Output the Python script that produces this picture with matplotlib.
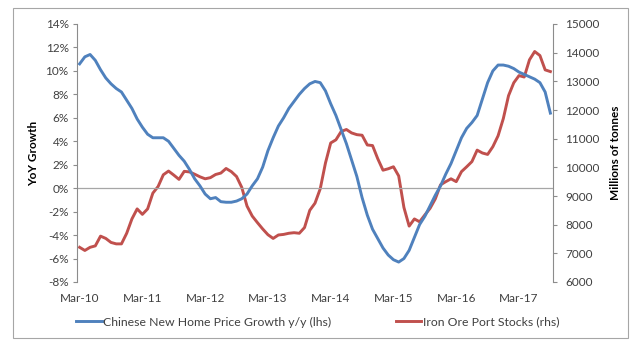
import numpy as np
import matplotlib.pyplot as plt
from matplotlib.patches import Rectangle
from matplotlib.ticker import FuncFormatter

plt.rcParams['font.family'] = ['Lato', 'DejaVu Sans']

# monthly, Mar-10 .. Sep-17
home_price_growth = [
    10.6, 11.2, 11.4, 10.9, 10.1, 9.4, 8.9, 8.5, 8.2, 7.5, 6.8, 5.9,
    5.2, 4.6, 4.3, 4.3, 4.3, 4.0, 3.4, 2.8, 2.3, 1.6, 0.8, 0.2,
    -0.5, -0.9, -0.8, -1.15, -1.2, -1.2, -1.1, -0.9, -0.5, 0.2, 0.8, 1.8,
    3.2, 4.3, 5.3, 6.0, 6.8, 7.4, 8.0, 8.5, 8.9, 9.1, 9.0, 8.3,
    7.2, 6.2, 5.0, 3.8, 2.4, 1.0, -0.8, -2.3, -3.5, -4.3, -5.1, -5.7,
    -6.1, -6.3, -6.0, -5.3, -4.2, -3.1, -2.4, -1.5, -0.6, 0.2, 1.2, 2.1,
    3.2, 4.3, 5.1, 5.6, 6.2, 7.6, 9.0, 10.0, 10.5, 10.5, 10.4, 10.2,
    9.9, 9.7, 9.5, 9.3, 9.0, 8.2, 6.4,
]

iron_ore_stocks = [
    7210, 7100, 7210, 7260, 7600, 7520, 7380, 7330, 7330, 7700, 8200, 8550,
    8360, 8550, 9100, 9330, 9740, 9870, 9730, 9580, 9860, 9840, 9760, 9670,
    9600, 9640, 9750, 9800, 9960, 9850, 9680, 9300, 8650, 8300, 8070, 7850,
    7650, 7520, 7640, 7660, 7700, 7720, 7700, 7900, 8500, 8750, 9250, 10150,
    10850, 10960, 11250, 11320, 11200, 11140, 11120, 10780, 10760, 10300, 9900, 9950,
    10020, 9700, 8600, 7950, 8200, 8100, 8340, 8570, 8900, 9390, 9500, 9600,
    9500, 9850, 10020, 10200, 10600, 10500, 10450, 10720, 11100, 11700, 12500, 12950,
    13200, 13150, 13750, 14040, 13900, 13400, 13340,
]

year_labels = ["Mar-10", "Mar-11", "Mar-12", "Mar-13",
               "Mar-14", "Mar-15", "Mar-16", "Mar-17"]

blue = "#4F81BD"
red = "#C0504D"
grey = "#8C8C8C"
text_col = "#404040"
fs = 8.5

x = np.arange(len(home_price_growth))

fig = plt.figure(figsize=(6.4, 3.43), dpi=100)
ax = fig.add_axes([77 / 640, 1 - 282 / 343, (553 - 77) / 640, (282 - 24) / 343])
ax2 = ax.twinx()

# outer chart frame
fig.patches.append(Rectangle((13 / 640, 1 - 338 / 343), 615 / 640, 330 / 343,
                             transform=fig.transFigure, fill=False,
                             edgecolor="#A6A6A6", linewidth=0.8))

ax.axhline(0, color="#A6A6A6", linewidth=0.9, zorder=1)
l1, = ax.plot(x, home_price_growth, color=blue, linewidth=2.1, zorder=3,
              label="Chinese New Home Price Growth y/y (lhs)")
l2, = ax2.plot(x, iron_ore_stocks, color=red, linewidth=2.1, zorder=3,
               label="Iron Ore Port Stocks (rhs)")
ax.set_zorder(ax2.get_zorder() + 1)
ax.patch.set_visible(False)

ax.set_xlim(-0.5, len(x) - 0.5)
ax.set_ylim(-8, 14)
ax.set_yticks(np.arange(-8, 15, 2))
ax.yaxis.set_major_formatter(FuncFormatter(lambda v, p: f"{v:.0f}%"))
ax2.set_ylim(6000, 15000)
ax2.set_yticks(np.arange(6000, 15001, 1000))

ax.set_xticks(x[::12])
ax.set_xticklabels(year_labels)
ax.tick_params(axis="x", length=0, pad=8, labelsize=fs, labelcolor=text_col)
ax.tick_params(axis="y", length=3, width=0.8, color=grey, labelsize=fs,
               labelcolor=text_col, pad=3)
ax2.tick_params(axis="y", length=3, width=0.8, color=grey, labelsize=fs,
                labelcolor=text_col, pad=6)

for a in (ax, ax2):
    a.spines["top"].set_visible(False)
    a.spines["bottom"].set_visible(False)
    a.spines["left"].set_color(grey)
    a.spines["right"].set_color(grey)
    a.spines["left"].set_linewidth(0.8)
    a.spines["right"].set_linewidth(0.8)
ax.spines["right"].set_visible(False)
ax2.spines["left"].set_visible(False)

ax.set_ylabel("YoY Growth", fontsize=fs, fontweight="bold", labelpad=5)
ax2.set_ylabel("Millions of tonnes", fontsize=fs, fontweight="bold", labelpad=7)

fig.legend(handles=[l1, l2], loc="center", bbox_to_anchor=(0.496, 0.061),
           ncol=2, frameon=False, fontsize=8.8, handlelength=2.1,
           handletextpad=0.1, columnspacing=5.3, labelcolor=text_col)

fig.savefig("out.png", dpi=100, facecolor="white")
